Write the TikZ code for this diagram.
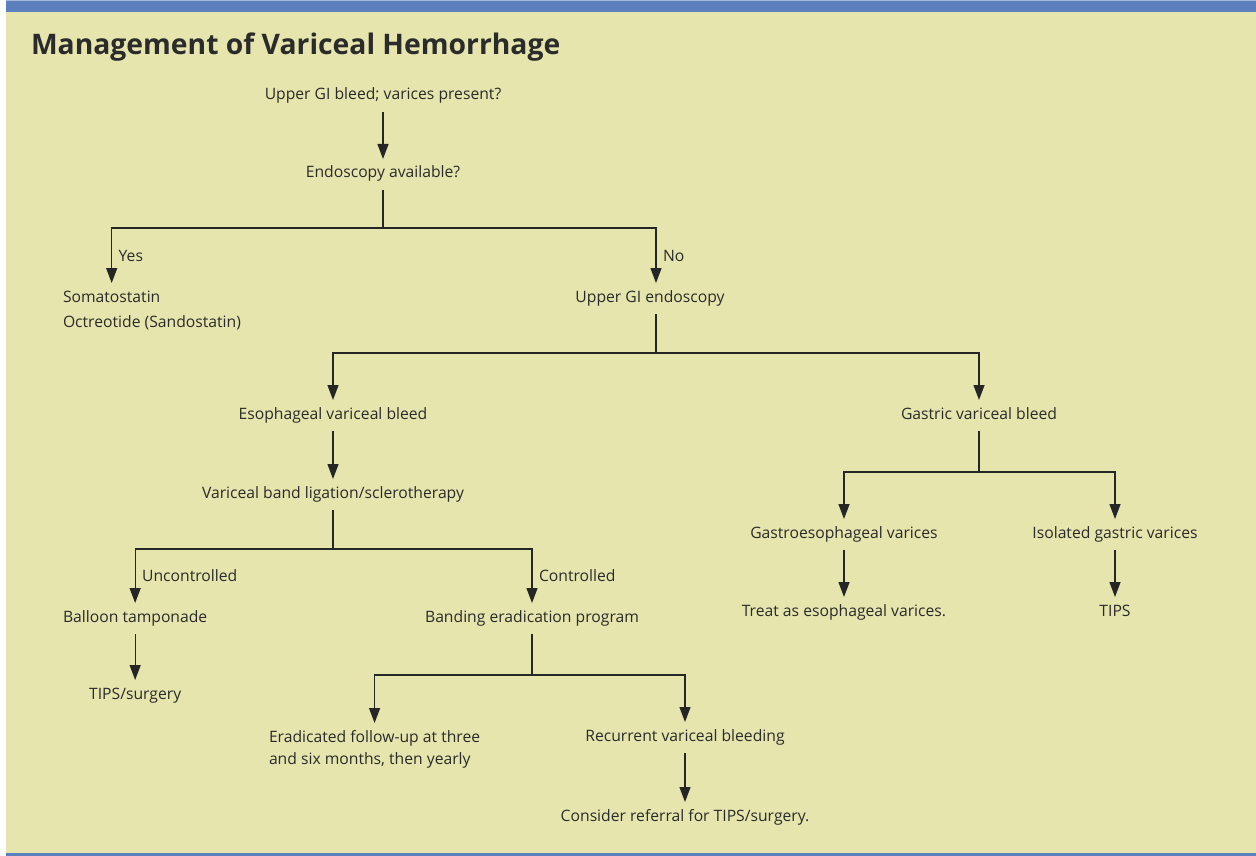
\documentclass[tikz,border=0pt]{standalone}
\usepackage{fontspec}
\setmainfont{Open Sans}
\usepackage{tikz}
\usetikzlibrary{positioning, arrows.meta}
\definecolor{panelbg}{HTML}{E5E5AD}
\definecolor{bandblue}{HTML}{5C7FBE}
\definecolor{inktext}{HTML}{2B2B2B}

\begin{document}
\begin{tikzpicture}
    [x=1pt, y=-1pt, outer sep=0pt,
    item/.style={inner sep=0pt, text height=19pt, text depth=12pt,
      anchor=base, text=inktext, font=\fontsize{15.7}{18}\selectfont},
    leftitem/.style={item, anchor=base west},
    branch/.style={inner sep=0pt, anchor=west, xshift=7pt, text=inktext,
      font=\fontsize{15.7}{18}\selectfont},
    link/.style={line width=1.3pt, draw=black!85},
    flow/.style={link, -{Triangle[length=15pt, width=11pt]}}]
    \useasboundingbox (0,0) rectangle (1256,856);
    \fill[panelbg] (6,0) rectangle (1256,856);
    \fill[bandblue!55] (6,0) rectangle (1256,1);
    \fill[bandblue] (6,1) rectangle (1256,12);
    \fill[bandblue] (6,853) rectangle (1256,856);

    \node[anchor=base west, inner sep=0pt, text=inktext,
      font=\fontsize{28.3}{32}\selectfont\bfseries] (title) at (31,55)
      {Management of Variceal Hemorrhage};

    \node[item] (upper) at (383,100) {Upper GI bleed; varices present?};
    \node[item] (endo) at (383,178) {Endoscopy available?};
    \node[leftitem] (soma) at (63,302) {Somatostatin};
    \node[leftitem] (octreo) at (63,327) {Octreotide (Sandostatin)};
    \node[item] (ugie) at (650,302) {Upper GI endoscopy};
    \node[item] (esoph) at (333,419) {Esophageal variceal bleed};
    \node[item] (gastric) at (979,419) {Gastric variceal bleed};
    \node[item] (band) at (333,498) {Variceal band ligation/sclerotherapy};
    \node[leftitem] (balloon) at (63,622) {Balloon tamponade};
    \node[item] (bandprog) at (532,622) {Banding eradication program};
    \node[item] (tipsurg) at (balloon.north |- 0,699) {TIPS/surgery};
    \node[leftitem] (erad) at (269,742) {Eradicated follow-up at three};
    \node[leftitem] (eradmore) at (269,764) {and six months, then yearly};
    \node[item] (recur) at (685,741) {Recurrent variceal bleeding};
    \node[item] (refer) at (685,821) {Consider referral for TIPS/surgery.};
    \node[item] (gastroeso) at (844,538) {Gastroesophageal varices};
    \node[item] (isolated) at (1115,538) {Isolated gastric varices};
    \node[item] (treat) at (844,616) {Treat as esophageal varices.};
    \node[item] (tips) at (1115,616) {TIPS};

    \coordinate (endo_split) at (383,228);
    \coordinate (ugie_split) at (656,353);
    \coordinate (band_split) at (333,549);
    \coordinate (prog_split) at (532,675);
    \coordinate (gastric_split) at (979,472);

    \draw[flow] (upper.south) -- (endo.north);
    \draw[link] (endo.south) -- (endo_split);
    \draw[flow] (endo_split) -| node[branch, pos=0.75] {Yes} (soma.north);
    \draw[flow] (endo_split) -| node[branch, pos=0.75] {No} ([xshift=6pt]ugie.north);
    \draw[link] ([xshift=6pt]ugie.south) -- (ugie_split);
    \draw[flow] (ugie_split) -| (esoph.north);
    \draw[flow] (ugie_split) -| (gastric.north);
    \draw[flow] (esoph.south) -- (band.north);
    \draw[link] (band.south) -- (band_split);
    \draw[flow] (band_split) -| node[branch, pos=0.75] {Uncontrolled} (balloon.north);
    \draw[flow] (band_split) -| node[branch, pos=0.75] {Controlled} (bandprog.north);
    \draw[flow] (balloon.south) -- (tipsurg.north);
    \draw[link] (bandprog.south) -- (prog_split);
    \draw[flow] (prog_split) -| (erad.north);
    \draw[flow] (prog_split) -| (recur.north);
    \draw[flow] (recur.south) -- (refer.north);
    \draw[link] (gastric.south) -- (gastric_split);
    \draw[flow] (gastric_split) -| (gastroeso.north);
    \draw[flow] (gastric_split) -| (isolated.north);
    \draw[flow] (gastroeso.south) -- (treat.north);
    \draw[flow] (isolated.south) -- (tips.north);
  \end{tikzpicture}
\end{document}
